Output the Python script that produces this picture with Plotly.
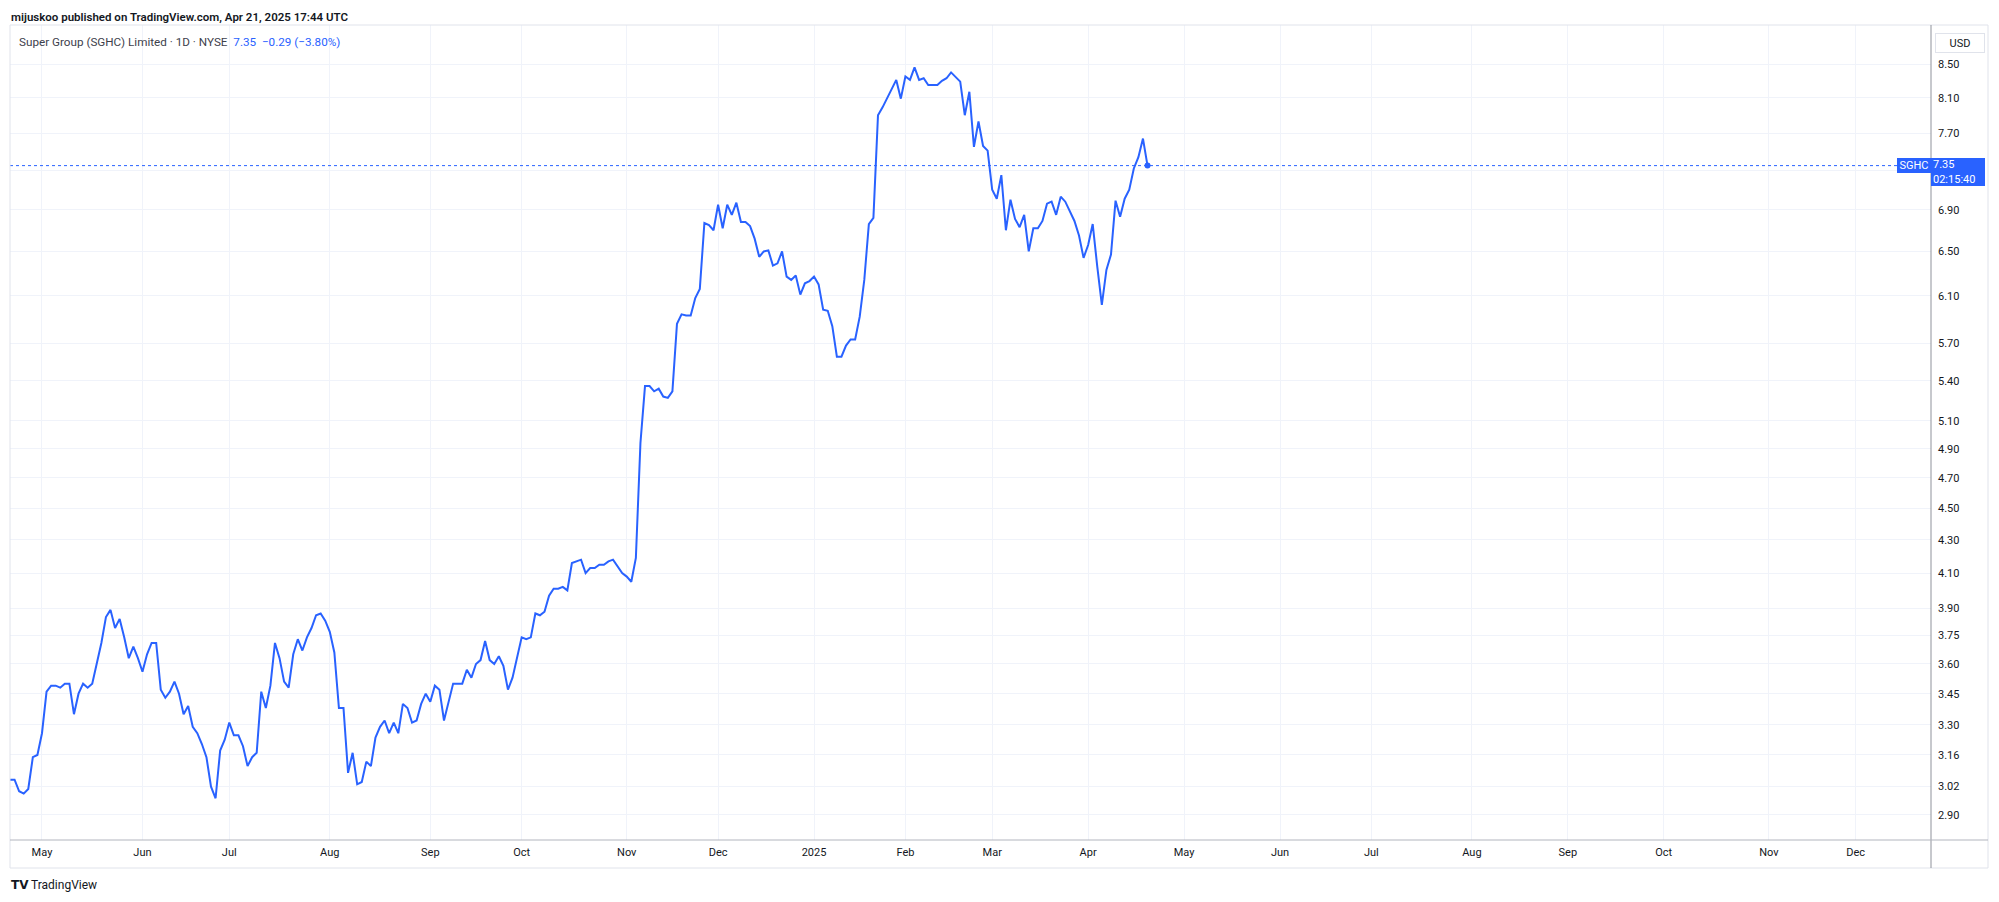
import math
import pandas as pd
import plotly.graph_objects as go
from pandas.tseries.offsets import CustomBusinessDay

# ---------------- data ----------------
holidays = ["2024-05-27", "2024-06-19", "2024-07-04", "2024-09-02", "2024-11-28",
            "2024-12-25", "2025-01-01", "2025-01-09", "2025-01-20", "2025-02-17",
            "2025-04-18", "2025-05-26", "2025-06-19", "2025-07-04", "2025-09-01",
            "2025-11-27", "2025-12-25"]
first_session = "2024-04-22"
last_session = "2025-04-21"

close_apr_jun_2024 = [3.05, 3.05, 3.00, 2.99, 3.01, 3.15, 3.16,
                      3.26, 3.46, 3.49, 3.49, 3.48, 3.50, 3.50, 3.35, 3.45, 3.50,
                      3.48, 3.50, 3.61, 3.71, 3.85, 3.89, 3.79, 3.84, 3.74, 3.63,
                      3.69, 3.63,
                      3.56, 3.65, 3.71, 3.71, 3.47, 3.43, 3.46, 3.51, 3.45, 3.35,
                      3.39, 3.29, 3.26, 3.21, 3.15, 3.02, 2.97, 3.18, 3.23]
close_jul_sep_2024 = [3.31, 3.25, 3.25, 3.20, 3.11, 3.15, 3.17, 3.46, 3.38, 3.49,
                      3.71, 3.63, 3.51, 3.48, 3.65, 3.73, 3.67, 3.74, 3.79, 3.86,
                      3.87, 3.83,
                      3.77, 3.66, 3.38, 3.38, 3.08, 3.17, 3.03, 3.04, 3.13, 3.11,
                      3.24, 3.29, 3.32, 3.26, 3.31, 3.26, 3.40, 3.38, 3.31, 3.32,
                      3.40, 3.45,
                      3.41, 3.49, 3.47, 3.32, 3.41, 3.50, 3.50, 3.50, 3.57, 3.53,
                      3.60, 3.62, 3.72, 3.62, 3.60, 3.64, 3.59, 3.47, 3.53, 3.64]
close_oct_dec_2024 = [3.74, 3.73, 3.74, 3.87, 3.86, 3.88, 3.97, 4.01, 4.01, 4.02,
                      4.00, 4.16, 4.17, 4.18, 4.10, 4.13, 4.13, 4.15, 4.15, 4.17,
                      4.18, 4.14, 4.10,
                      4.08, 4.05, 4.19, 4.94, 5.36, 5.36, 5.32, 5.34, 5.28, 5.27,
                      5.32, 5.86, 5.94, 5.93, 5.93, 6.08, 6.16, 6.77, 6.75, 6.70,
                      6.95,
                      6.72, 6.95, 6.85, 6.97, 6.78, 6.78, 6.74, 6.62, 6.45, 6.50,
                      6.51, 6.37, 6.39, 6.50, 6.27, 6.24, 6.28, 6.11, 6.21, 6.23]
close_jan_apr_2025 = [6.27, 6.20, 5.98, 5.97, 5.84, 5.59, 5.59, 5.68, 5.73, 5.73,
                      5.92, 6.24, 6.76, 6.82, 7.90, 7.99, 8.09, 8.19, 8.31, 8.09,
                      8.35, 8.31, 8.46, 8.31, 8.33, 8.25, 8.25, 8.25, 8.30, 8.33,
                      8.40, 8.35, 8.29, 7.90, 8.17, 7.55, 7.83, 7.56, 7.51,
                      7.10, 7.01, 7.25, 6.70, 7.00, 6.81, 6.73, 6.85, 6.50, 6.72,
                      6.72, 6.79, 6.96, 6.98, 6.85, 7.03, 6.98, 6.89, 6.79, 6.65,
                      6.44,
                      6.56, 6.76, 6.36, 6.02, 6.33, 6.47, 6.99, 6.83, 7.01, 7.10,
                      7.32, 7.44, 7.64, 7.35]
close = close_apr_jun_2024 + close_jul_sep_2024 + close_oct_dec_2024 + close_jan_apr_2025

price_ticks = [2.90, 3.02, 3.16, 3.30, 3.45, 3.60, 3.75, 3.90, 4.10, 4.30, 4.50,
               4.70, 4.90, 5.10, 5.40, 5.70, 6.10, 6.50, 6.90, 7.30, 7.70, 8.10, 8.50]
hidden_price_ticks = [7.30]

month_tick_dates = ["2024-05-01", "2024-06-03", "2024-07-01", "2024-08-01", "2024-09-03",
                    "2024-10-01", "2024-11-01", "2024-12-02", "2025-01-02", "2025-02-03",
                    "2025-03-03", "2025-04-01", "2025-05-01", "2025-06-02", "2025-07-01",
                    "2025-08-01", "2025-09-02", "2025-10-01", "2025-11-03", "2025-12-01"]
month_tick_labels = ["May", "Jun", "Jul", "Aug", "Sep", "Oct", "Nov", "Dec", "2025", "Feb",
                     "Mar", "Apr", "May", "Jun", "Jul", "Aug", "Sep", "Oct", "Nov", "Dec"]

x_range = ["2024-04-22", "2025-12-23 12:00"]
y_range_values = [2.7977, 8.99]

title_text = "mijuskoo published on TradingView.com, Apr 21, 2025 17:44 UTC"
legend_text = "Super Group (SGHC) Limited · 1D · NYSE"
legend_values = "7.35\u00a0\u00a0−0.29 (−3.80%)"
countdown = "02:15:40"
symbol = "SGHC"

# ---------------- build ----------------
dates = pd.date_range(first_session, last_session, freq=CustomBusinessDay(holidays=holidays))
assert len(dates) == len(close), (len(dates), len(close))
last_price = close[-1]

PAGE_W, PAGE_H = 1999, 902
BODY = 8                      # default page body margin of the browser
W, H = PAGE_W - 2 * BODY, PAGE_H - 2 * BODY
# plot area in page pixels
L, R, T, B = 10, 1931, 25, 840
BLUE = "#2962ff"
TXT = "#131722"
GRID = "#f0f3fa"


def px(x):
    return (x - L) / (R - L)


def py(y):
    return (B - y) / (B - T)


fig = go.Figure()
fig.add_trace(go.Scatter(x=[pd.Timestamp(x_range[0]), pd.Timestamp(x_range[1])],
                         y=[last_price, last_price], mode="lines",
                         line=dict(color=BLUE, width=1, dash="dot"),
                         hoverinfo="skip", showlegend=False))
fig.add_trace(go.Scatter(x=dates, y=close, mode="lines",
                         line=dict(color=BLUE, width=2), showlegend=False))
fig.add_trace(go.Scatter(x=[dates[-1]], y=[last_price], mode="markers",
                         marker=dict(color=BLUE, size=6), showlegend=False))

tick_text = ["" if v in hidden_price_ticks else f"{v:.2f}" for v in price_ticks]

fig.update_layout(
    width=W, height=H,
    margin=dict(l=L - BODY, r=W - (R - BODY), t=T - BODY, b=H - (B - BODY), pad=0),
    paper_bgcolor="white", plot_bgcolor="white",
    font=dict(family="Roboto, 'Liberation Sans', sans-serif", size=11, color=TXT),
    xaxis=dict(type="date", range=x_range,
               rangebreaks=[dict(bounds=["sat", "mon"]), dict(values=holidays)],
               tickvals=month_tick_dates, ticktext=month_tick_labels,
               showgrid=True, gridcolor=GRID, gridwidth=1, zeroline=False,
               showline=False, ticks="", tickfont=dict(size=11, color=TXT),
               ticklabelstandoff=4, fixedrange=True),
    yaxis=dict(type="log", side="right",
               range=[math.log10(y_range_values[0]), math.log10(y_range_values[1])],
               tickvals=price_ticks, ticktext=tick_text,
               showgrid=True, gridcolor=GRID, gridwidth=1, zeroline=False,
               showline=False, ticks="", tickfont=dict(size=11, color=TXT),
               ticklabelstandoff=6),
    showlegend=False,
)

shapes = [
    # outer frame
    dict(type="rect", xref="paper", yref="paper", x0=px(10), x1=px(1988), y0=py(868), y1=py(25),
         line=dict(color="#e0e3eb", width=1), fillcolor="rgba(0,0,0,0)", layer="above"),
    # price scale border
    dict(type="line", xref="paper", yref="paper", x0=1, x1=1, y0=py(868), y1=py(25),
         line=dict(color="#8f929b", width=1), layer="above"),
    # time scale border
    dict(type="line", xref="paper", yref="paper", x0=px(10), x1=px(1988), y0=0, y1=0,
         line=dict(color="#b2b5be", width=1), layer="above"),
]
fig.update_layout(shapes=shapes)

ann = []
ann.append(dict(xref="paper", yref="paper", x=px(10), y=py(17), xanchor="left", yanchor="middle",
                text=title_text, showarrow=False, borderpad=0,
                font=dict(size=11.5, color=TXT, weight=600)))
ann.append(dict(xref="paper", yref="paper", x=px(17), y=py(42), xanchor="left", yanchor="middle",
                text=f"{legend_text}\u00a0\u00a0<span style='color:{BLUE}'>{legend_values}</span>",
                showarrow=False, font=dict(size=11.7, color="#3d414c")))
# USD box
ann.append(dict(xref="paper", yref="paper", x=px(1960), y=py(43), xanchor="center", yanchor="middle",
                text="USD", showarrow=False, font=dict(size=11, color=TXT),
                bgcolor="white", bordercolor="#e0e3eb", borderwidth=1, borderpad=2,
                width=44, height=14))
# symbol label on pane
ann.append(dict(xref="paper", yref="y", x=1, y=math.log10(last_price), xanchor="right",
                yanchor="middle", text=symbol, showarrow=False,
                font=dict(size=11, color="white"), bgcolor=BLUE, borderwidth=0, borderpad=1,
                width=32, height=13))
# price label on scale
ann.append(dict(xref="paper", yref="y", x=1, y=math.log10(last_price), xanchor="left",
                yanchor="top", yshift=7.5, text=f"{last_price:.2f}<br>{countdown}", showarrow=False,
                align="left", font=dict(size=11, color="white"), bgcolor=BLUE, borderwidth=0,
                borderpad=2, width=50, height=24))
# TradingView footer
ann.append(dict(xref="paper", yref="paper", x=px(9), y=py(885), xanchor="left", yanchor="middle",
                text="<b>TV</b>", showarrow=False,
                font=dict(size=12, color=TXT, family="DejaVu Sans")))
ann.append(dict(xref="paper", yref="paper", x=px(29), y=py(885), xanchor="left", yanchor="middle",
                text="TradingView", showarrow=False, font=dict(size=12, color=TXT)))
fig.update_layout(annotations=ann)

fig.write_html("out.html")
